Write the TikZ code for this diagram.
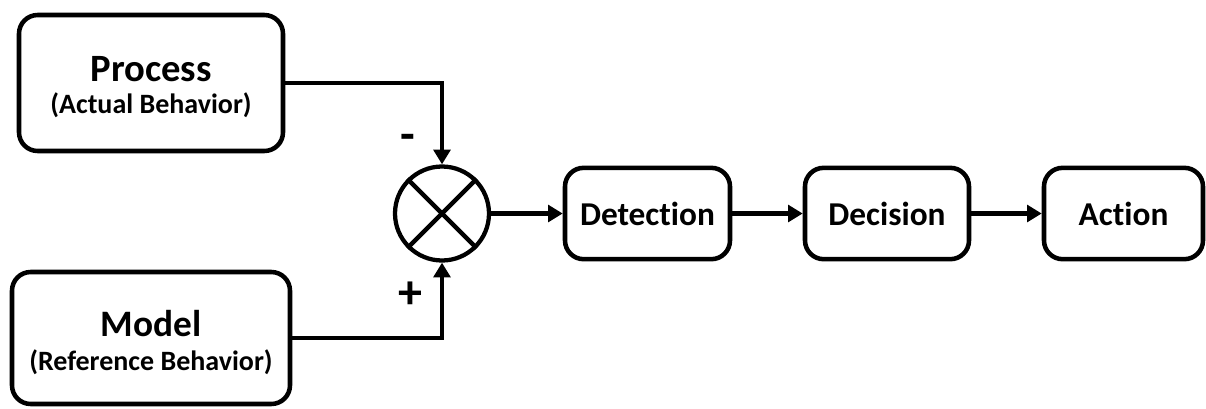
\documentclass[tikz,border=0pt]{standalone}
\usepackage{fontspec}
\setmainfont{Carlito}[Ligatures=NoCommon]
\usetikzlibrary{arrows.meta}

\begin{document}
\begin{tikzpicture}[x=0.75pt, y=-0.75pt,
    block/.style={draw, line width=3.4pt, rounded corners=14pt, font=\bfseries, align=center, inner sep=0pt},
    chain/.style={block, minimum height=68.5pt, font=\bfseries\fontsize{25}{28}\selectfont},
    sumnode/.style={draw, circle, line width=3.2pt, minimum size=70.5pt, inner sep=0pt},
    flow/.style={line width=3.5pt, -{Triangle[length=11pt, width=12.5pt]}},
    sign/.style={font=\bfseries\fontsize{36}{40}\selectfont, inner sep=0pt, anchor=base}]
        % Canvas
        \useasboundingbox (0,0) rectangle (1206,408);

        % Inputs
        \node[block, minimum width=198pt, minimum height=102pt, font=\bfseries\fontsize{29}{24}\selectfont] (process) at (151,83)
            {\rule{0pt}{25pt}Process\\{\fontsize{21}{24}\selectfont (Actual Behavior)}};
        \node[block, minimum width=208.5pt, minimum height=99pt, font=\bfseries\fontsize{28}{25.5}\selectfont] (model) at (151,338)
            {\rule{0pt}{27pt}Model\\{\fontsize{21}{24}\selectfont (Reference Behavior)}};

        % Comparator
        \node[sumnode] (sum) at (442,213.5) {};
        \draw[line width=3.2pt] (sum.north west) -- (sum.south east);
        \draw[line width=3.2pt] (sum.north east) -- (sum.south west);

        % Chain
        \node[chain, minimum width=123.75pt] (detect) at (647.5,213.5) {Detection};
        \node[chain, minimum width=123pt] (decide) at (887,213.5) {Decision};
        \node[chain, minimum width=119.25pt] (act) at (1123.5,213.5) {Action};

        % Signs
        \node[sign] (minus) at (408,150) {-};
        \node[sign] (plus) at (410,308) {+};

        % Connectors
        \draw[flow] (process.east) -| (sum.north);
        \draw[flow] (model.east) -| (sum.south);
        \draw[flow] (sum.east) -- (detect.west);
        \draw[flow] (detect.east) -- (decide.west);
        \draw[flow] (decide.east) -- (act.west);
    \end{tikzpicture}
\end{document}
